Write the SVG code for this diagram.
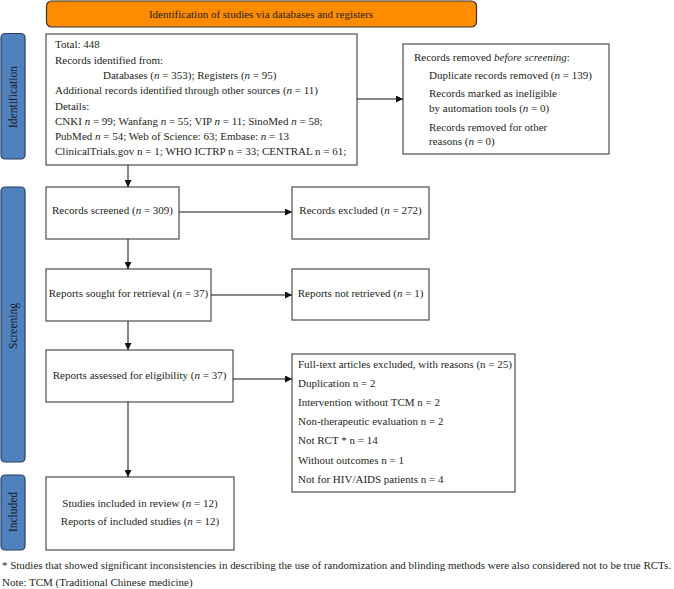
<svg xmlns="http://www.w3.org/2000/svg" width="674" height="589" viewBox="0 0 674 589" font-family="'Liberation Serif', 'DejaVu Serif', serif">
<style>
text{font-family:'Liberation Serif','DejaVu Serif',serif;font-size:11px;fill:#231f20}
.box{fill:#fff;stroke:#4d4d4d;stroke-width:1.2}
.side{fill:#4f81bd;stroke:#2a3f5f;stroke-width:1.2}
.hdr{fill:#ff8c00;stroke:#333;stroke-width:1.2}
.c{text-anchor:middle}
.lbl{font-size:11.5px;text-anchor:middle;dominant-baseline:central;fill:#1a1a2e}
.conn{stroke:#111;stroke-width:1;fill:none;marker-end:url(#ah)}
.fn{font-size:11px}
</style>
<defs>
<marker id="ah" viewBox="0 0 8 8" refX="8" refY="4" markerWidth="7" markerHeight="7" markerUnits="userSpaceOnUse" orient="auto">
<path d="M0,0 L8,4 L0,8 z" fill="#111"/>
</marker>
</defs>

<g id="header">
<rect class="hdr" x="46.5" y="1" width="430" height="26" rx="5"/>
<text class="c" x="261" y="18">Identification of studies via databases and registers</text>
</g>

<g id="side-identification">
<rect class="side" x="1" y="33.5" width="24" height="125.5" rx="4"/>
<text class="lbl" transform="translate(13,97) rotate(-90)">Identification</text>
</g>
<g id="side-screening">
<rect class="side" x="1" y="187" width="24" height="275" rx="4"/>
<text class="lbl" transform="translate(13,326) rotate(-90)">Screening</text>
</g>
<g id="side-included">
<rect class="side" x="1" y="475" width="24" height="75" rx="4"/>
<text class="lbl" transform="translate(13,512) rotate(-90)">Included</text>
</g>

<g id="identified">
<rect class="box" x="46" y="34" width="311" height="131"/>
<text x="55" y="48">Total: 448</text>
<text x="55" y="64">Records identified from:</text>
<text x="103" y="79">Databases (<tspan font-style="italic">n</tspan> = 353); Registers (<tspan font-style="italic">n</tspan> = 95)</text>
<text x="55" y="94">Additional records identified through other sources (<tspan font-style="italic">n</tspan> = 11)</text>
<text x="55" y="110">Details:</text>
<text x="55" y="125">CNKI <tspan font-style="italic">n</tspan> = 99; Wanfang <tspan font-style="italic">n</tspan> = 55; VIP <tspan font-style="italic">n</tspan> = 11; SinoMed <tspan font-style="italic">n</tspan> = 58;</text>
<text x="55" y="140">PubMed <tspan font-style="italic">n</tspan> = 54; Web of Science: 63; Embase: <tspan font-style="italic">n</tspan> = 13</text>
<text x="55" y="155">ClinicalTrials.gov n = 1; WHO ICTRP n = 33; CENTRAL n = 61;</text>
</g>

<g id="removed">
<rect class="box" x="403" y="44" width="206" height="110"/>
<text x="414" y="61">Records removed <tspan font-style="italic">before screening</tspan>:</text>
<text x="429" y="79">Duplicate records removed (<tspan font-style="italic">n</tspan> = 139)</text>
<text x="429" y="97">Records marked as ineligible</text>
<text x="429" y="112">by automation tools (<tspan font-style="italic">n</tspan> = 0)</text>
<text x="429" y="131">Records removed for other</text>
<text x="429" y="145">reasons (<tspan font-style="italic">n</tspan> = 0)</text>
</g>

<g id="screened">
<rect class="box" x="46" y="187" width="133" height="52"/>
<text class="c" x="112.5" y="214">Records screened (<tspan font-style="italic">n</tspan> = 309)</text>
</g>
<g id="excluded">
<rect class="box" x="292" y="187" width="137" height="52"/>
<text class="c" x="360.5" y="214">Records excluded (<tspan font-style="italic">n</tspan> = 272)</text>
</g>
<g id="sought">
<rect class="box" x="46" y="269" width="165" height="52"/>
<text class="c" x="128.5" y="297">Reports sought for retrieval (<tspan font-style="italic">n</tspan> = 37)</text>
</g>
<g id="not-retrieved">
<rect class="box" x="292" y="269" width="137" height="51"/>
<text class="c" x="360.5" y="297">Reports not retrieved (<tspan font-style="italic">n</tspan> = 1)</text>
</g>
<g id="assessed">
<rect class="box" x="46" y="350" width="187" height="52"/>
<text class="c" x="139.5" y="379">Reports assessed for eligibility (<tspan font-style="italic">n</tspan> = 37)</text>
</g>
<g id="fulltext-excluded">
<rect class="box" x="292" y="354" width="223" height="138"/>
<text x="298" y="368">Full-text articles excluded, with reasons (n = 25)</text>
<text x="298" y="387">Duplication n = 2</text>
<text x="298" y="406">Intervention without TCM n = 2</text>
<text x="298" y="425">Non-therapeutic evaluation n = 2</text>
<text x="298" y="444">Not RCT * n = 14</text>
<text x="298" y="464">Without outcomes n = 1</text>
<text x="298" y="483">Not for HIV/AIDS patients n = 4</text>
</g>
<g id="included">
<rect class="box" x="46" y="477" width="188" height="73"/>
<text class="c" x="140" y="507">Studies included in review (<tspan font-style="italic">n</tspan> = 12)</text>
<text class="c" x="140" y="525">Reports of included studies (<tspan font-style="italic">n</tspan> = 12)</text>
</g>

<g id="connectors">
<line class="conn" x1="357" y1="99" x2="403" y2="99"/>
<line class="conn" x1="128" y1="165" x2="128" y2="187"/>
<line class="conn" x1="179" y1="212" x2="292" y2="212"/>
<line class="conn" x1="128" y1="239" x2="128" y2="269"/>
<line class="conn" x1="211" y1="295" x2="292" y2="295"/>
<line class="conn" x1="128" y1="321" x2="128" y2="350"/>
<line class="conn" x1="233" y1="379" x2="292" y2="379"/>
<line class="conn" x1="128" y1="402" x2="128" y2="477"/>
</g>

<g id="footnotes">
<text class="fn" x="2" y="569" textLength="669" lengthAdjust="spacingAndGlyphs">* Studies that showed significant inconsistencies in describing the use of randomization and blinding methods were also considered not to be true RCTs.</text>
<text class="fn" x="2" y="586">Note: TCM (Traditional Chinese medicine)</text>
</g>
</svg>
